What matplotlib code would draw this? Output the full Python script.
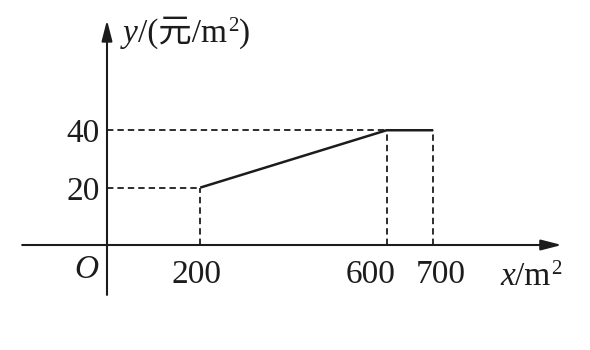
import matplotlib
matplotlib.use('Agg')
import matplotlib.pyplot as plt

plt.rcParams['font.family'] = ['Liberation Serif', 'Noto Sans CJK SC']
plt.rcParams['lines.scale_dashes'] = False

# 折线的拐点 (面积 x, 单价 y)
x_pts = [200, 600, 700]
y_pts = [20, 40, 40]
x_ticks = [200, 600, 700]
x_tick_labels = ['200', '600', '700']
y_ticks = [20, 40]
y_tick_labels = ['20', '40']

PX = 0.72  # 1 px in points at dpi 100
ink = '#1c1c1c'
dash = (0, (4.6, 2.9))

fig = plt.figure(figsize=(5.9, 3.5), dpi=100)
ax = fig.add_axes([0, 0, 1, 1])
ax.set_xlim(-229.6, 1036.5)
ax.set_ylim(-36.6, 85.4)
ax.axis('off')

# 坐标轴
arrow = dict(arrowstyle='-|>,head_length=1.25,head_width=0.32', lw=1.5,
             color=ink, mutation_scale=10, shrinkA=0, shrinkB=0)
ax.annotate('', xy=(976, 0), xytext=(-182, 0), arrowprops=arrow)
ax.annotate('', xy=(0, 78.4), xytext=(0, -17.4), arrowprops=arrow)

# 虚线
for xv, yv in zip(x_pts, y_pts):
    ax.plot([xv, xv], [0, yv], ls=dash, lw=1.3, color=ink)
for xv, yv in zip(x_pts[:2], y_pts[:2]):
    ax.plot([0, xv], [yv, yv], ls=dash, lw=1.3, color=ink)

# 函数图像
ax.plot(x_pts, y_pts, lw=1.8, color=ink, solid_capstyle='butt')

# 刻度标签
x_nudge = [-4, -16, 8]
for v, lbl, dx in zip(x_ticks, x_tick_labels, x_nudge):
    ax.annotate(lbl, xy=(v, 0), xytext=(dx * PX, -38 * PX), textcoords='offset points',
                ha='center', va='baseline', fontsize=24, color=ink)
for v, lbl in zip(y_ticks, y_tick_labels):
    ax.annotate(lbl, xy=(0, v), xytext=(-7 * PX, -12 * PX), textcoords='offset points',
                ha='right', va='baseline', fontsize=24, color=ink)

ax.annotate('O', xy=(0, 0), xytext=(-21 * PX, -33 * PX), textcoords='offset points',
            ha='center', va='baseline', fontsize=24, fontstyle='italic', color=ink)


def unit_label(var, xy_px, body, tail=''):
    # 斜体变量 + 正体单位 + 上标 2
    t0 = ax.annotate(var, xy=(0, 0), xytext=(xy_px[0] * PX, xy_px[1] * PX),
                     textcoords='offset points', ha='left', va='baseline',
                     fontsize=24, fontstyle='italic', color=ink)
    t1 = ax.annotate(body, xy=(1, 0), xycoords=t0, ha='left', va='bottom',
                     fontsize=24, color=ink)
    t2 = ax.annotate('2', xy=(1, 0), xycoords=t1, xytext=(1 * PX, 18 * PX),
                     textcoords='offset points', ha='left', va='baseline',
                     fontsize=15, color=ink)
    if tail:
        ax.annotate(tail, xy=(1, 0), xycoords=(t2, t1), xytext=(1 * PX, 0),
                    textcoords='offset points', ha='left', va='bottom',
                    fontsize=24, color=ink)


unit_label('y', (16, 203), '/(元/m', ')')
unit_label('x', (393, -40), '/m')

fig.savefig('out.png', dpi=100, facecolor='white')
